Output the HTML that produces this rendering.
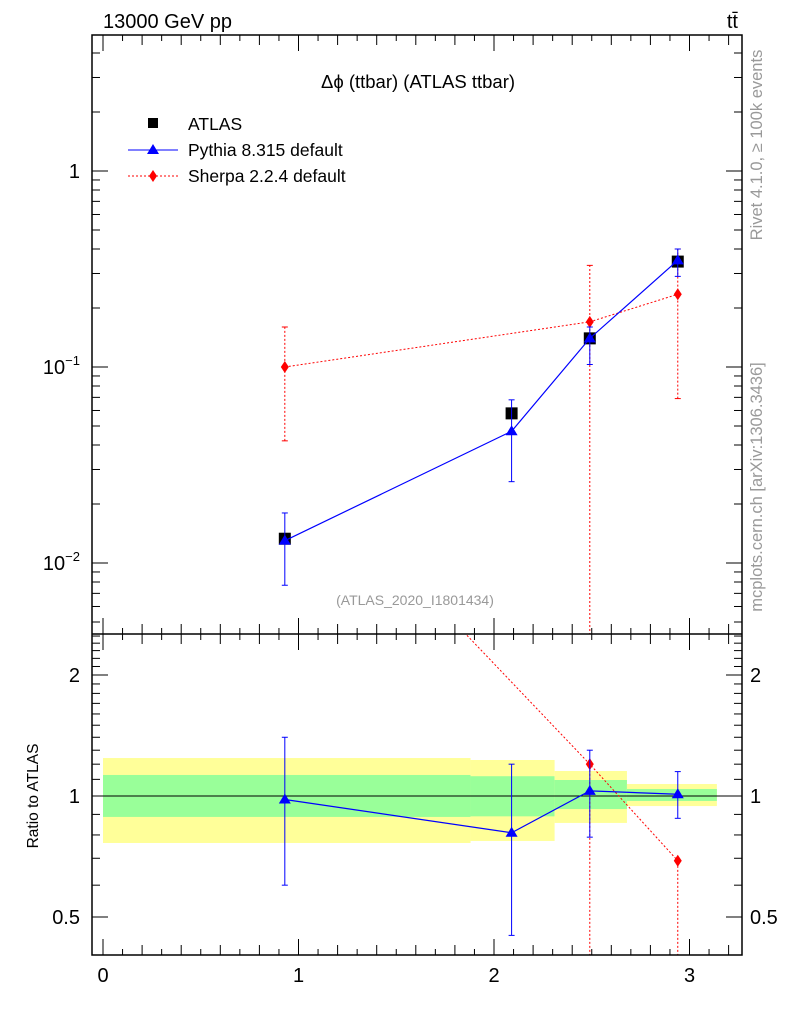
<!DOCTYPE html>
<html><head><meta charset="utf-8"><style>
html,body{margin:0;background:#fff;width:786px;height:1024px;overflow:hidden;}
svg{display:block;font-family:"Liberation Sans",sans-serif;}
</style></head><body>
<svg id="c" width="786" height="1024" viewBox="0 0 786 1024"></svg>
<script>
const xs=[0.93,2.09,2.49,2.94];
const atlas=[0.0133,0.058,0.14,0.345];
const pythia=[0.013,0.047,0.14,0.35];
const pyLo=[0.0077,0.026,0.103,0.29];
const pyHi=[0.018,0.068,0.16,0.40];
const sherpaX=[0.93,2.49,2.94];
const sherpa=[0.1,0.17,0.235];
const shLo=[0.042,0.001,0.069];
const shHi=[0.16,0.33,0.40];
const binEdges=[0,1.88,2.31,2.68,3.14];
const yelLo=[0.764,0.773,0.857,0.944];
const yelHi=[1.243,1.229,1.154,1.071];
const grnLo=[0.887,0.89,0.928,0.972];
const grnHi=[1.128,1.12,1.096,1.041];
const rPy=[0.98,0.81,1.03,1.01];
const rPyLo=[0.6,0.45,0.79,0.88];
const rPyHi=[1.4,1.2,1.3,1.15];
const rShX=[0.93,2.49,2.94];
const rSh=[7.5,1.2,0.69];
const rShErrX=[2.49,2.94];
const rShLo=[0.01,0.01];
const rShHi=[1.2,0.69];

const svg=document.getElementById('c');
const NS='http://www.w3.org/2000/svg';
const L=92,R=742,T=35,M=634,B=955;
const X=v=>103+v*195.5;
const Y=v=>171-Math.log10(v)*196;
const YR=v=>796-Math.log2(v)*121;
function el(t,a,p){const e=document.createElementNS(NS,t);for(const k in a)e.setAttribute(k,a[k]);(p||svg).appendChild(e);return e;}
function txt(x,y,s,a){const e=el('text',Object.assign({x:x,y:y},a));e.textContent=s;return e;}
const defs=el('defs',{});
const cp1=el('clipPath',{id:'cm'},defs);el('rect',{x:L,y:T,width:R-L,height:M-T},cp1);
const cp2=el('clipPath',{id:'cr'},defs);el('rect',{x:L,y:M,width:R-L,height:B-M},cp2);
const gm=el('g',{'clip-path':'url(#cm)'});
const gr=el('g',{'clip-path':'url(#cr)'});

for(let i=0;i<4;i++){
 const y=el('rect',{x:X(binEdges[i]),y:YR(yelHi[i]),width:X(binEdges[i+1])-X(binEdges[i]),height:YR(yelLo[i])-YR(yelHi[i]),fill:'#ffff99'},gr);
 
 const g=el('rect',{x:X(binEdges[i]),y:YR(grnHi[i]),width:X(binEdges[i+1])-X(binEdges[i]),height:YR(grnLo[i])-YR(grnHi[i]),fill:'#99ff99'},gr);
 
}
el('line',{x1:L,x2:R,y1:YR(1),y2:YR(1),stroke:'#000','stroke-width':1},gr);

el('rect',{x:L,y:T,width:R-L,height:B-T,fill:'none',stroke:'#000','stroke-width':1.5});
el('line',{x1:L,x2:R,y1:M,y2:M,stroke:'#000','stroke-width':1.5});
function xt(y0,dir){for(let i=0;i<=32;i++){const v=i/10;const x=X(v);const len=i%10==0?16:(i%2==0?10:6);
 el('line',{x1:x,x2:x,y1:y0,y2:y0-dir*len,stroke:'#000','stroke-width':1});}}
xt(B,1);xt(M,1);xt(M,-1);xt(T,-1);
for(let d=-3;d<=0;d++)for(let k=1;k<10;k++){const v=k*Math.pow(10,d);const y=Y(v);if(y<T||y>M)continue;const len=k==1?16:8;
 el('line',{x1:L,x2:L+len,y1:y,y2:y,stroke:'#000'});el('line',{x1:R,x2:R-len,y1:y,y2:y,stroke:'#000'});}
[0.4,0.5,0.6,0.7,0.8,0.9,1,1.1,1.2,1.3,1.4,1.5,1.6,1.7,1.8,1.9,2,2.1,2.2,2.3,2.4,2.5].forEach(v=>{const y=YR(v);if(y<M||y>B)return;
 const len=(v==0.5||v==1||v==2)?16:8;el('line',{x1:L,x2:L+len,y1:y,y2:y,stroke:'#000'});el('line',{x1:R,x2:R-len,y1:y,y2:y,stroke:'#000'});});

const fs={'font-size':20};
[[0,'0'],[1,'1'],[2,'2'],[3,'3']].forEach(a=>txt(X(a[0]),982,a[1],Object.assign({'text-anchor':'middle'},fs)));
txt(80,178,'1',Object.assign({'text-anchor':'end'},fs));
const t1=txt(80,374,'10',Object.assign({'text-anchor':'end'},fs));const s1=el('tspan',{dy:-9,'font-size':13},t1);s1.textContent='−1';
const t2=txt(80,570,'10',Object.assign({'text-anchor':'end'},fs));const s2=el('tspan',{dy:-9,'font-size':13},t2);s2.textContent='−2';
[[2,'2'],[1,'1'],[0.5,'0.5']].forEach(a=>{txt(80,YR(a[0])+7,a[1],Object.assign({'text-anchor':'end'},fs));txt(750,YR(a[0])+7,a[1],fs);});
txt(103,28,'13000 GeV pp',fs);
txt(738,28,'tt̄',Object.assign({'text-anchor':'end'},fs));
txt(418,88,'Δϕ (ttbar) (ATLAS ttbar)',{'font-size':18.5,'text-anchor':'middle'});
txt(415,605,'(ATLAS_2020_I1801434)',{'font-size':14,fill:'#999','text-anchor':'middle'});
txt(38,796,'Ratio to ATLAS',{'font-size':15.5,'text-anchor':'middle',transform:'rotate(-90 38 796)'});
txt(762,145,'Rivet 4.1.0, ≥ 100k events',{'font-size':16.5,fill:'#999','text-anchor':'middle',transform:'rotate(-90 762 145)'});
txt(762,487,'mcplots.cern.ch [arXiv:1306.3436]',{'font-size':16.5,fill:'#999','text-anchor':'middle',transform:'rotate(-90 762 487)'});

el('rect',{x:148,y:118,width:10,height:10,fill:'#000'});txt(188,130,'ATLAS',{'font-size':17.5});
el('line',{x1:128,x2:178,y1:150,y2:150,stroke:'#00f'});el('polygon',{points:'153,144 159,154 147,154',fill:'#00f'});txt(188,156,'Pythia 8.315 default',{'font-size':17.5});
el('line',{x1:128,x2:178,y1:176,y2:176,stroke:'#f00','stroke-dasharray':'2,2'});el('polygon',{points:'153,170 157,176 153,182 149,176',fill:'#f00'});txt(188,182,'Sherpa 2.2.4 default',{'font-size':17.5});

function tri(g,x,y,c){el('polygon',{points:`${x},${y-6} ${x+6},${y+4} ${x-6},${y+4}`,fill:c},g);}
function dia(g,x,y,c){el('polygon',{points:`${x},${y-6} ${x+4},${y} ${x},${y+6} ${x-4},${y}`,fill:c},g);}
el('polyline',{points:sherpaX.map((x,i)=>X(x)+','+Y(sherpa[i])).join(' '),fill:'none',stroke:'#f00','stroke-dasharray':'2,2'},gm);
sherpaX.forEach((x,i)=>{el('line',{x1:X(x),x2:X(x),y1:Y(shLo[i]),y2:Y(shHi[i]),stroke:'#f00','stroke-dasharray':'2,2'},gm);
 el('line',{x1:X(x)-3,x2:X(x)+3,y1:Y(shHi[i]),y2:Y(shHi[i]),stroke:'#f00'},gm);el('line',{x1:X(x)-3,x2:X(x)+3,y1:Y(shLo[i]),y2:Y(shLo[i]),stroke:'#f00'},gm);
 dia(gm,X(x),Y(sherpa[i]),'#f00');});
xs.forEach((x,i)=>{const r=el('rect',{x:X(x)-6,y:Y(atlas[i])-6,width:12,height:12,fill:'#000'},gm);});
el('polyline',{points:xs.map((x,i)=>X(x)+','+Y(pythia[i])).join(' '),fill:'none',stroke:'#00f','stroke-width':1.2},gm);
xs.forEach((x,i)=>{el('line',{x1:X(x),x2:X(x),y1:Y(pyLo[i]),y2:Y(pyHi[i]),stroke:'#00f'},gm);
 el('line',{x1:X(x)-3,x2:X(x)+3,y1:Y(pyHi[i]),y2:Y(pyHi[i]),stroke:'#00f'},gm);el('line',{x1:X(x)-3,x2:X(x)+3,y1:Y(pyLo[i]),y2:Y(pyLo[i]),stroke:'#00f'},gm);
 tri(gm,X(x),Y(pythia[i]),'#00f');});
el('polyline',{points:rShX.map((x,i)=>X(x)+','+YR(rSh[i])).join(' '),fill:'none',stroke:'#f00','stroke-dasharray':'2,2'},gr);
rShErrX.forEach((x,i)=>{el('line',{x1:X(x),x2:X(x),y1:YR(rShLo[i]),y2:YR(rShHi[i]),stroke:'#f00','stroke-dasharray':'2,2'},gr);});
rShX.forEach((x,i)=>dia(gr,X(x),YR(rSh[i]),'#f00'));
el('polyline',{points:xs.map((x,i)=>X(x)+','+YR(rPy[i])).join(' '),fill:'none',stroke:'#00f','stroke-width':1.2},gr);
xs.forEach((x,i)=>{el('line',{x1:X(x),x2:X(x),y1:YR(rPyLo[i]),y2:YR(rPyHi[i]),stroke:'#00f'},gr);
 el('line',{x1:X(x)-3,x2:X(x)+3,y1:YR(rPyHi[i]),y2:YR(rPyHi[i]),stroke:'#00f'},gr);el('line',{x1:X(x)-3,x2:X(x)+3,y1:YR(rPyLo[i]),y2:YR(rPyLo[i]),stroke:'#00f'},gr);
 tri(gr,X(x),YR(rPy[i]),'#00f');});
</script>
</body></html>
